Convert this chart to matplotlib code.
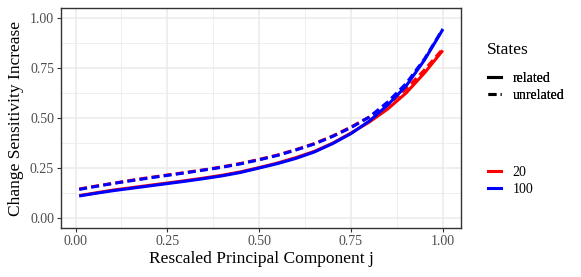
import matplotlib
matplotlib.use("Agg")
import matplotlib.pyplot as plt
from matplotlib.lines import Line2D
from matplotlib.ticker import MultipleLocator, FormatStrFormatter

plt.rcParams["font.family"] = ["Liberation Serif", "DejaVu Serif"]

# rescaled principal component j
x = [0.01, 0.05, 0.10, 0.15, 0.20, 0.25, 0.30, 0.35, 0.40, 0.45, 0.50,
     0.55, 0.60, 0.65, 0.70, 0.75, 0.80, 0.85, 0.90, 0.95, 1.00]

red_related = [0.112, 0.124, 0.139, 0.151, 0.163, 0.175, 0.187, 0.200, 0.214, 0.231, 0.252,
               0.275, 0.302, 0.333, 0.374, 0.425, 0.480, 0.545, 0.625, 0.725, 0.838]
blue_related = [0.110, 0.122, 0.136, 0.148, 0.160, 0.172, 0.184, 0.197, 0.211, 0.228, 0.250,
                0.272, 0.298, 0.330, 0.372, 0.422, 0.485, 0.565, 0.660, 0.790, 0.943]
red_unrelated = [0.145, 0.158, 0.173, 0.188, 0.202, 0.215, 0.228, 0.241, 0.256, 0.273, 0.293,
                 0.315, 0.342, 0.372, 0.410, 0.455, 0.505, 0.565, 0.645, 0.740, 0.845]
blue_unrelated = [0.143, 0.156, 0.172, 0.186, 0.200, 0.213, 0.226, 0.240, 0.254, 0.271, 0.291,
                  0.313, 0.340, 0.370, 0.408, 0.452, 0.505, 0.580, 0.672, 0.795, 0.945]

state_labels = ["20", "100"]
state_colors = ["#FF0000", "#0000FF"]
type_labels = ["related", "unrelated"]

LW = 2.2
DASH = (0, (2.6, 1.4))

fig = plt.figure(figsize=(5.81, 2.77), dpi=100)
ax = fig.add_axes([61 / 581, 49 / 277, 400 / 581, 220 / 277])

series = [
    (red_related, state_colors[0], "-"),
    (red_unrelated, state_colors[0], DASH),
    (blue_related, state_colors[1], "-"),
    (blue_unrelated, state_colors[1], DASH),
]
for y, col, ls in series:
    ax.plot(x, y, color=col, linestyle=ls, linewidth=LW, solid_capstyle="butt",
            dash_capstyle="butt", zorder=3)

ax.set_xlim(-0.0395, 1.0495)
ax.set_ylim(-0.05, 1.05)
ax.xaxis.set_major_locator(MultipleLocator(0.25))
ax.yaxis.set_major_locator(MultipleLocator(0.25))
ax.xaxis.set_minor_locator(MultipleLocator(0.125))
ax.yaxis.set_minor_locator(MultipleLocator(0.125))
ax.xaxis.set_major_formatter(FormatStrFormatter("%.2f"))
ax.yaxis.set_major_formatter(FormatStrFormatter("%.2f"))

ax.grid(which="major", color="#EBEBEB", linewidth=1.1, zorder=0)
ax.grid(which="minor", color="#EBEBEB", linewidth=0.55, zorder=0)
ax.set_axisbelow(True)
for s in ax.spines.values():
    s.set_color("#333333")
    s.set_linewidth(1.0)
ax.tick_params(which="major", length=3, width=0.8, color="#333333",
               labelcolor="#4D4D4D", labelsize=10, pad=2)
ax.tick_params(which="minor", length=0)

ax.set_xlabel("Rescaled Principal Component j", fontsize=12.5, labelpad=2)
ax.set_ylabel("Change Sensitivity Increase", fontsize=12.5, labelpad=4)

# legends (ggplot style: linetype guide titled "States", colour guide untitled)
fig.text(487 / 581, 1 - 50 / 277, "States", fontsize=12.5, ha="left", va="center")
type_handles = [Line2D([], [], color="black", linewidth=LW, linestyle="-"),
                Line2D([], [], color="black", linewidth=LW, linestyle=DASH)]
leg1 = fig.legend(type_handles, type_labels,
                  loc="upper left", bbox_to_anchor=(482 / 581, 1 - 66 / 277),
                  frameon=False, fontsize=10,
                  handlelength=1.0, handletextpad=0.8, labelspacing=0.3,
                  borderaxespad=0)
state_handles = [Line2D([], [], color=c, linewidth=LW) for c in state_colors]
leg2 = fig.legend(state_handles, state_labels,
                  loc="upper left", bbox_to_anchor=(482 / 581, 1 - 160 / 277),
                  frameon=False, fontsize=10,
                  handlelength=1.0, handletextpad=0.8, labelspacing=0.3,
                  borderaxespad=0)
fig.add_artist(leg1)

fig.savefig("out.png", dpi=100)
